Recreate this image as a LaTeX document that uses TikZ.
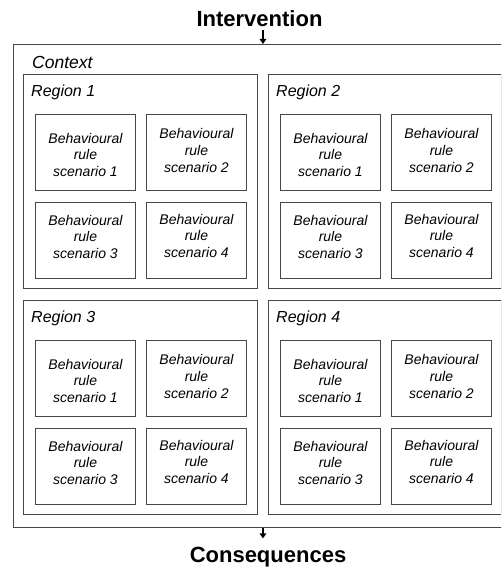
\documentclass[tikz,border=0pt]{standalone}
\usepackage{fontspec}
\setmainfont{Liberation Sans}
\usetikzlibrary{arrows.meta}
\begin{document}
\begin{tikzpicture}[x=1pt,y=-1pt,
  frame/.style={draw=black!72, line width=0.9pt, inner sep=0pt, anchor=north west},
  rulebox/.style={frame, minimum width=100pt, minimum height=76pt},
  ruletext/.style={align=center, inner sep=0pt,
    font=\fontsize{14}{16.7}\selectfont\itshape},
  caption/.style={anchor=west, inner sep=0pt, font=\fontsize{16}{18}\selectfont\itshape},
  heading/.style={anchor=base, inner sep=0pt, font=\fontsize{22}{24}\selectfont\bfseries},
  flow/.style={-{Triangle[length=5pt,width=6.5pt]}, line width=1.4pt, draw=black}]
\useasboundingbox (0,0) rectangle (501,567);
\clip (0,0) rectangle (501,567);

% outer context frame
\node[frame, minimum width=500pt, minimum height=483pt] (context) at (12.5,44) {};
\node[caption, font=\fontsize{17.5}{19}\selectfont\itshape] (contextlabel) at (32,62) {Context};

% four regions, each holding four behavioural-rule scenarios
\foreach \r/\rx/\ry/\rw in {1/23/74/234, 2/268/74/232.5, 3/23/300/234, 4/268/300/232.5} {
  \node[frame, minimum width=\rw pt, minimum height=214pt] (r\r) at (\rx,\ry) {};
  \node[caption] (r\r label) at (\rx+8,\ry+18) {Region \r};
  \foreach \s/\dx/\dy/\sh in {1/12/40/-2.5, 2/123/40/2, 3/12/128/3.5, 4/123/128/4.5} {
    \node[rulebox] (r\r s\s) at (\rx+\dx,\ry+\dy) {};
    \node[ruletext] (r\r s\s text) at ([yshift=\sh pt]r\r s\s.center)
      {Behavioural\\rule\\scenario \s};
  }
}

% input and output
\node[heading] (intervention) at (259.5,27) {Intervention};
\node[heading] (consequences) at (268,562) {Consequences};
\draw[flow] (intervention.south -| context.north) ++(0,2.5) -- (context.north);
\draw[flow] (context.south) -- ([yshift=8pt]context.south |- consequences.north);
\end{tikzpicture}
\end{document}
